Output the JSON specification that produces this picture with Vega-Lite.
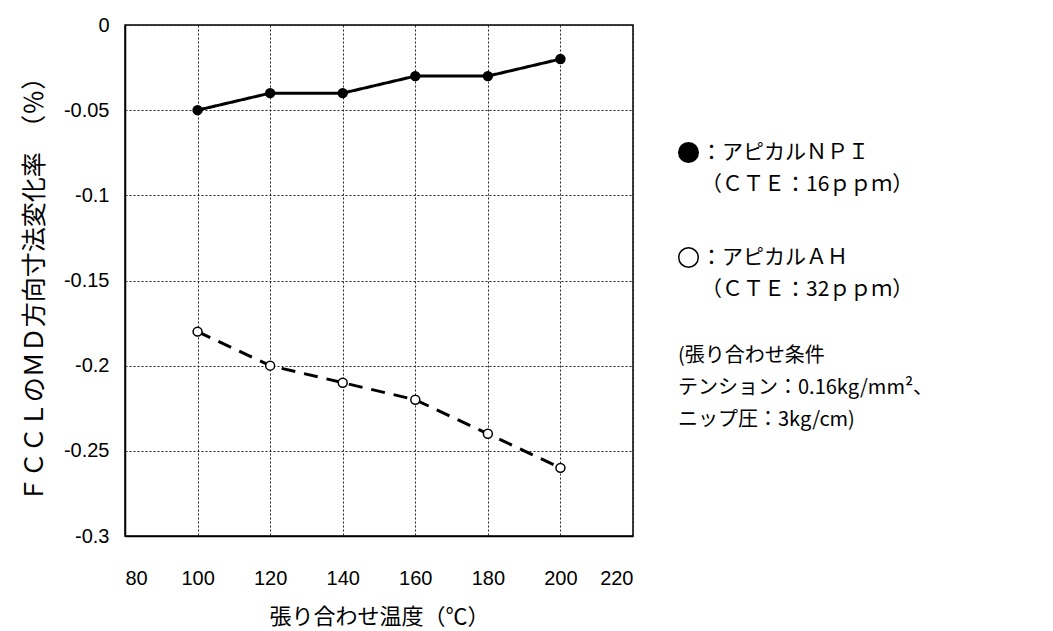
{
  "$schema": "https://vega.github.io/schema/vega-lite/v6.json",
  "width": 508,
  "height": 511,
  "autosize": {"type": "none"},
  "padding": {"left": 125, "top": 25, "right": 420, "bottom": 95},
  "background": "white",
  "config": {
    "view": {"stroke": "black", "strokeWidth": 1.5},
    "style": {"guide-label": {"lineHeight": 32}},
    "axis": {
      "gridColor": "#222222",
      "gridDash": [2, 2],
      "gridWidth": 1,
      "gridOpacity": 1,
      "domainColor": "black",
      "domainWidth": 1.5,
      "ticks": false,
      "labelFont": "Liberation Sans",
      "labelFontSize": 20,
      "labelColor": "black",
      "titleFont": "Noto Sans CJK JP",
      "titleFontWeight": "normal",
      "titleColor": "black",
      "titleFontSize": 21
    }
  },
  "data": {
    "values": [
      {"temp": 100, "series": "NPI", "rate": -0.05},
      {"temp": 120, "series": "NPI", "rate": -0.04},
      {"temp": 140, "series": "NPI", "rate": -0.04},
      {"temp": 160, "series": "NPI", "rate": -0.03},
      {"temp": 180, "series": "NPI", "rate": -0.03},
      {"temp": 200, "series": "NPI", "rate": -0.02},
      {"temp": 100, "series": "AH", "rate": -0.18},
      {"temp": 120, "series": "AH", "rate": -0.2},
      {"temp": 140, "series": "AH", "rate": -0.21},
      {"temp": 160, "series": "AH", "rate": -0.22},
      {"temp": 180, "series": "AH", "rate": -0.24},
      {"temp": 200, "series": "AH", "rate": -0.26}
    ]
  },
  "encoding": {
    "x": {
      "field": "temp",
      "type": "quantitative",
      "scale": {"domain": [80, 220], "nice": false, "zero": false},
      "axis": {
        "values": [80, 100, 120, 140, 160, 180, 200, 220],
        "labelPadding": 32,
        "title": "張り合わせ温度（℃）",
        "titlePadding": 18,
        "titleFontSize": 22
      }
    },
    "y": {
      "field": "rate",
      "type": "quantitative",
      "scale": {"domain": [-0.3, 0], "nice": false, "zero": false},
      "axis": {
        "values": [0, -0.05, -0.1, -0.15, -0.2, -0.25, -0.3],
        "labelExpr": "'' + datum.value",
        "labelPadding": 16,
        "title": "ＦＣＣＬのＭＤ方向寸法変化率　（％）",
        "titleFontSize": 25,
        "titleY": 258,
        "titlePadding": 16
      }
    }
  },
  "layer": [
    {
      "mark": {"type": "line", "strokeWidth": 3, "color": "black"},
      "encoding": {
        "detail": {"field": "series", "type": "nominal"},
        "strokeDash": {
          "condition": {"test": "datum.series == 'AH'", "value": [14, 9]},
          "value": [1, 0]
        }
      }
    },
    {
      "mark": {"type": "point", "shape": "circle", "filled": true, "size": 80, "stroke": "black", "strokeWidth": 1.5, "opacity": 1},
      "encoding": {
        "fill": {
          "field": "series",
          "type": "nominal",
          "scale": {"domain": ["NPI", "AH"], "range": ["black", "white"]},
          "legend": {
            "orient": "none",
            "legendX": 553,
            "legendY": 117,
            "title": ["(張り合わせ条件", "テンション：0.16kg/mm²、", "ニップ圧：3kg/cm)"],
            "titleOrient": "bottom",
            "titleAnchor": "start",
            "titleAlign": "left",
            "titleFont": "Noto Sans CJK JP",
            "titleFontSize": 20,
            "titleFontWeight": "normal",
            "titleColor": "black",
            "titleLineHeight": 32,
            "titlePadding": 46,
            "titleLimit": 0,
            "labelExpr": "datum.value == 'NPI' ? ['：アピカルＮＰＩ', '　（ＣＴＥ：16ｐｐｍ）'] : ['：アピカルＡＨ', '　（ＣＴＥ：32ｐｐｍ）']",
            "labelFont": "Noto Sans CJK JP",
            "labelFontSize": 21,
            "labelColor": "black",
            "labelLimit": 0,
            "labelOffset": 2,
            "symbolType": "circle",
            "symbolSize": 380,
            "symbolStrokeColor": "black",
            "symbolStrokeWidth": 1.5,
            "rowPadding": 49,
            "encode": {
              "labels": {
                "enter": {"lineHeight": {"value": 32}},
                "update": {"lineHeight": {"value": 32}}
              }
            }
          }
        }
      }
    }
  ]
}
